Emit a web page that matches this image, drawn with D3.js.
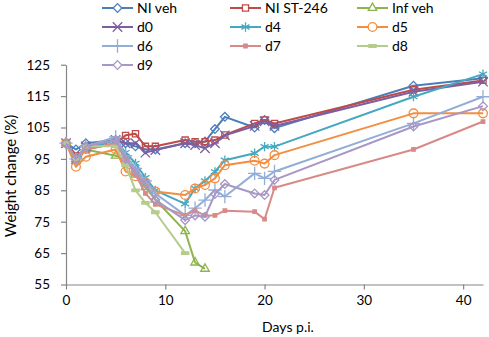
<!DOCTYPE html>
<meta charset="utf-8">
<style>
    body { margin: 0; background: #fff; }
    svg { display: block; }
    text { font-family: Lato, "Open Sans", sans-serif; fill: #000; }
</style>
<script src="https://cdn.jsdelivr.net/npm/d3@7"></script>
<body>
<svg></svg>
</body>
<script>

    // sampling days (days post infection)
    var days = [0, 1, 2, 5, 6, 7, 8, 9, 12, 13, 14, 15, 16, 19, 20, 21, 35, 42];

    var niVeh   = [100, 98, 100, 101, 100, 99, 98, 98, 100, 100, 100.5, 104.5, 108.4, 105, 107.4, 104.8, 118.3, 120.7];
    var niST    = [100, 96, 98, 100, 102.5, 103, 99, 99, 101, 100.5, 100.5, 101, 102.6, 106.3, 107.4, 106.3, 117, 120];
    var infVeh  = [100, 95, 98, 96, 95, 90, 86, 82, 72, 62, 60];
    var d0      = [100, 95, 99, 101, 100, 100, 97, 97.8, 100, 99.4, 98.4, 100, 102.5, 105.5, 107, 105.5, 116.4, 119.6];
    var d4      = [100, 94, 98, 101, 97, 93.6, 89, 85, 80.7, 85.6, 88, 90.9, 94.6, 96.8, 98.9, 98.9, 114.8, 122];
    var d5      = [100, 92.5, 95.7, 98, 91, 89.5, 87.5, 84.6, 83.5, 85.6, 86.7, 88.8, 93, 94.4, 93.5, 96.2, 109.5, 109.5];
    var d6      = [100, 95, 99, 102, 96, 92, 88, 84, 77, 79.3, 81.9, 85.1, 83, 90.4, 88.8, 91, 106.3, 114.8];
    var d7      = [100, 95, 98, 100, 95, 90, 84, 80.5, 77, 78.5, 77, 77, 78.5, 78.2, 75.8, 85.8, 98, 106.9];
    var d8      = [100, 95, 99, 99, 93, 85, 81, 78, 65];
    var d9      = [100, 95, 99, 101, 95, 91, 87, 82, 75.5, 77, 76.6, 83.8, 87, 84, 83.5, 88.3, 105.3, 111.8];

    var names  = ["NI veh", "NI ST-246", "Inf veh", "d0", "d4", "d5", "d6", "d7", "d8", "d9"];
    var yTicks = [55, 65, 75, 85, 95, 105, 115, 125];
    var xTicks = [0, 10, 20, 30, 40];

    var barSym = {
        draw: function (ctx, size) {
            var w = Math.sqrt(size) * 0.9, h = w * 0.35;
            ctx.rect(-w / 2, -h / 2, w, h);
        }
    };

    var series = [
        {name: names[0], vals: niVeh,  color: "#4a7ebb", sym: d3.symbolDiamond2, size: 48, fill: "none"},
        {name: names[1], vals: niST,   color: "#be4b48", sym: d3.symbolSquare2,  size: 48, fill: "none"},
        {name: names[2], vals: infVeh, color: "#8fb34e", sym: d3.symbolTriangle2, size: 52, fill: "none"},
        {name: names[3], vals: d0,     color: "#7d5fa0", sym: d3.symbolTimes,    size: 60, fill: "none"},
        {name: names[4], vals: d4,     color: "#46a7c0", sym: d3.symbolAsterisk, size: 60, fill: "none"},
        {name: names[5], vals: d5,     color: "#f38d3f", sym: d3.symbolCircle,   size: 60, fill: "none"},
        {name: names[6], vals: d6,     color: "#93aed6", sym: d3.symbolPlus,     size: 60, fill: "none"},
        {name: names[7], vals: d7,     color: "#d88a88", sym: d3.symbolSquare,   size: 12, fill: "#d88a88"},
        {name: names[8], vals: d8,     color: "#b4cc8c", sym: barSym,            size: 64, fill: "#b4cc8c"},
        {name: names[9], vals: d9,     color: "#a797c6", sym: d3.symbolDiamond2, size: 48, fill: "none"}
    ];

    var W = 489, H = 337;
    var svg = d3.select("svg").attr("width", W).attr("height", H);

    var x = d3.scaleLinear().domain([0, 42]).range([66, 483]);
    var y = d3.scaleLinear().domain([55, 125]).range([284.5, 64.7]);

    var axisColor = "#868686";

    // axes
    var gx = svg.append("g").attr("transform", "translate(0," + y(55) + ")")
        .call(d3.axisBottom(x).tickValues(xTicks).tickSize(5).tickSizeOuter(0).tickPadding(6));
    var gy = svg.append("g").attr("transform", "translate(" + x(0) + ",0)")
        .call(d3.axisLeft(y).tickValues(yTicks).tickSize(5).tickSizeOuter(0).tickPadding(11));
    [gx, gy].forEach(function (g) {
        g.select(".domain").attr("stroke", axisColor).attr("stroke-width", 1.2);
        g.selectAll(".tick line").attr("stroke", axisColor).attr("stroke-width", 1.2);
        g.selectAll(".tick text").style("font-family", "Lato, sans-serif").style("font-size", "13.5px").attr("fill", "#000");
    });

    svg.append("text").attr("x", 288).attr("y", 332).attr("text-anchor", "middle")
        .style("font-size", "14px").text("Days p.i.");
    svg.append("text").attr("transform", "translate(16,176) rotate(-90)").attr("text-anchor", "middle")
        .style("font-size", "15px").text("Weight change (%)");

    // lines + markers
    var line = d3.line()
        .defined(function (d) { return d != null; })
        .x(function (d, i) { return x(days[i]); })
        .y(function (d) { return y(d); });

    series.forEach(function (s) {
        var g = svg.append("g");
        g.append("path").attr("d", line(s.vals)).attr("fill", "none")
            .attr("stroke", s.color).attr("stroke-width", 2).attr("stroke-linejoin", "round");
        g.selectAll("path.m").data(s.vals).enter().append("path").attr("class", "m")
            .attr("transform", function (d, i) { return "translate(" + x(days[i]) + "," + y(d) + ")"; })
            .attr("d", d3.symbol().type(s.sym).size(s.size))
            .attr("fill", s.fill).attr("stroke", s.color).attr("stroke-width", 1.3);
    });

    // legend, 3 columns
    var colX = [102, 230, 357];
    var rowY = [8, 27, 46, 65];
    series.forEach(function (s, i) {
        var cx = colX[i % 3], cy = rowY[Math.floor(i / 3)];
        var g = svg.append("g").attr("transform", "translate(" + cx + "," + cy + ")");
        g.append("rect").attr("x", 0).attr("y", -7).attr("width", 32).attr("height", 14).attr("fill", "#fff");
        g.append("line").attr("x1", 0).attr("x2", 31).attr("stroke", s.color).attr("stroke-width", 2);
        g.append("path").attr("transform", "translate(15.5,0)")
            .attr("d", d3.symbol().type(s.sym).size(s.size))
            .attr("fill", s.fill === "none" ? "#fff" : s.fill).attr("stroke", s.color).attr("stroke-width", 1.3);
        g.append("text").attr("x", 35).attr("y", 5).style("font-size", "14px").text(s.name);
    });

</script>
</html>
